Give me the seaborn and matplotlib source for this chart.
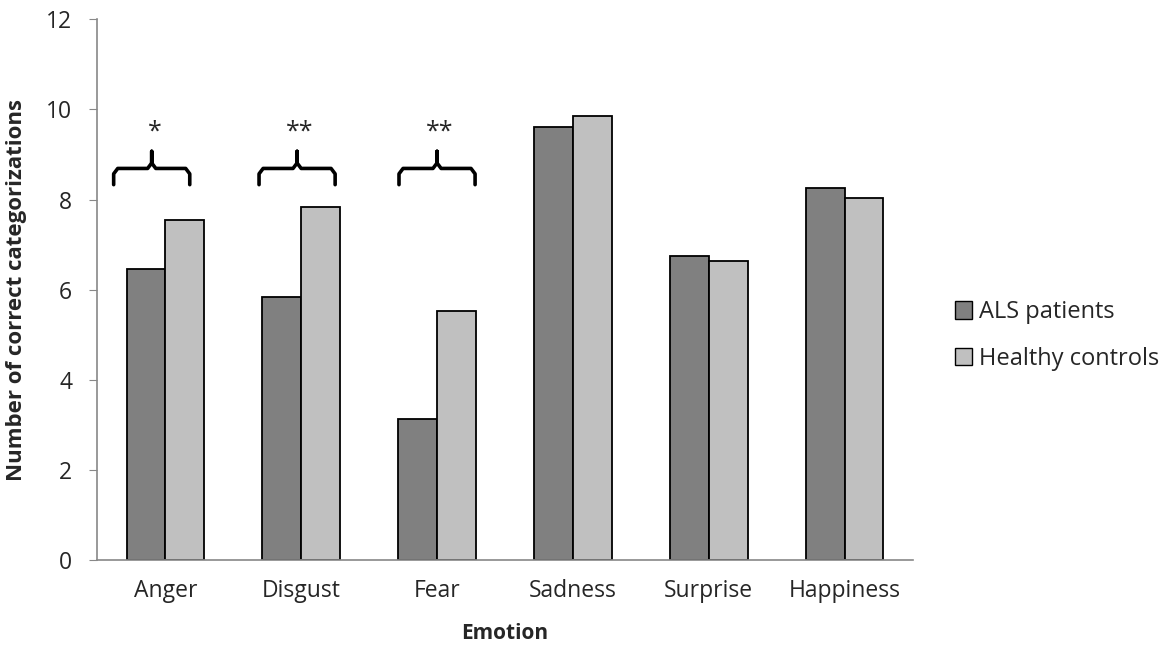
import numpy as np
import pandas as pd
import seaborn as sns
import matplotlib.pyplot as plt

# Values.
emotions = ['Anger', 'Disgust', 'Fear', 'Sadness', 'Surprise', 'Happiness']
als_patients = [6.46, 5.83, 3.13, 9.61, 6.75, 8.26]
healthy_controls = [7.54, 7.83, 5.52, 9.85, 6.63, 8.04]
groups = ['ALS patients', 'Healthy controls']

# Significance markers over the first three emotions.
sig_emotions = ['Anger', 'Disgust', 'Fear']
sig_labels = ['*', '**', '**']
sig_shift = [-0.1, -0.03, 0.0]

df = pd.DataFrame({
    'emotion': emotions * 2,
    'group': [groups[0]] * len(emotions) + [groups[1]] * len(emotions),
    'value': als_patients + healthy_controls,
})

sns.set_style('white')
plt.rcParams['font.family'] = ['Open Sans', 'DejaVu Sans']

fig, ax = plt.subplots(figsize=(11.73, 6.45), dpi=100)
sns.barplot(data=df, x='emotion', y='value', hue='group', order=emotions,
            hue_order=groups, palette=['#808080', '#c0c0c0'], width=0.57,
            edgecolor='black', linewidth=1.3, saturation=1, ax=ax)

ax.set_ylim(0, 12)
ax.set_xlim(-0.5, 5.5)
ax.set_yticks(range(0, 13, 2))
ax.tick_params(axis='x', labelsize=16.5, length=0, pad=14)
ax.tick_params(axis='y', labelsize=16.5, length=6, color='#888888',
               direction='out', left=True, pad=12)
for side in ['top', 'right']:
    ax.spines[side].set_visible(False)
for side in ['left', 'bottom']:
    ax.spines[side].set_color('#888888')
    ax.spines[side].set_linewidth(1.2)
ax.set_xlabel('Emotion', fontsize=15, fontweight='bold', labelpad=14)
ax.set_ylabel('Number of correct categorizations', fontsize=16,
              fontweight='bold', labelpad=14)

# Curly brackets and stars.
y_end, y_mid, y_tip, y_star = 8.33, 8.69, 9.07, 9.5
half, dx, dy = 0.28, 0.03, 0.12
for emo, lab, shift in zip(sig_emotions, sig_labels, sig_shift):
    c = emotions.index(emo) + shift
    xs = [c - half, c - half, c - half + dx, c - dx, c, c,
          c, c + dx, c + half - dx, c + half, c + half]
    ys = [y_end, y_mid - dy, y_mid, y_mid, y_mid + dy, y_tip,
          y_mid + dy, y_mid, y_mid, y_mid - dy, y_end]
    ax.plot(xs, ys, color='black', lw=2.6, solid_capstyle='round',
            solid_joinstyle='round')
    ax.text(c + 0.02, y_star, lab, ha='center', va='center', fontsize=18)

leg = ax.legend(loc='center left', bbox_to_anchor=(1.04, 0.415), frameon=False,
                fontsize=17, handlelength=0.75, handleheight=0.75,
                handletextpad=0.3, labelspacing=0.95, borderaxespad=0)
for h in leg.legend_handles:
    h.set_edgecolor('black')
    h.set_linewidth(1.0)

fig.subplots_adjust(left=0.083, right=0.778, top=0.97, bottom=0.132)
fig.savefig('out.png', dpi=100)
